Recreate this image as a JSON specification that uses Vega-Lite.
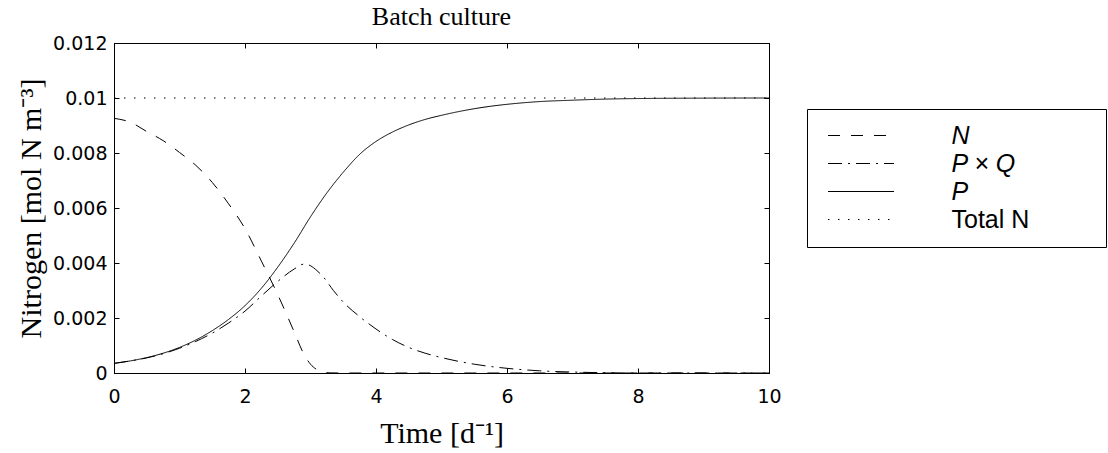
{
  "$schema": "https://vega.github.io/schema/vega-lite/v6.json",
  "autosize": "none",
  "width": 655,
  "height": 330,
  "padding": {"left": 114, "top": 43, "right": 339, "bottom": 80},
  "background": "white",
  "title": {"text": "Batch culture", "font": "Liberation Serif", "fontSize": 26, "fontWeight": "normal", "color": "black", "offset": 4},
  "data": {"values": [
    {"s": "N", "t": 0, "v": 0.00926}, {"s": "N", "t": 0.25, "v": 0.00912}, {"s": "N", "t": 0.5, "v": 0.00878},
    {"s": "N", "t": 0.75, "v": 0.00845}, {"s": "N", "t": 1.0, "v": 0.00802}, {"s": "N", "t": 1.25, "v": 0.00755},
    {"s": "N", "t": 1.5, "v": 0.00693}, {"s": "N", "t": 1.75, "v": 0.00615}, {"s": "N", "t": 2.0, "v": 0.00525},
    {"s": "N", "t": 2.25, "v": 0.00407}, {"s": "N", "t": 2.5, "v": 0.00285}, {"s": "N", "t": 2.75, "v": 0.0015},
    {"s": "N", "t": 2.9, "v": 0.00068}, {"s": "N", "t": 3.0, "v": 0.00032}, {"s": "N", "t": 3.1, "v": 0.00012},
    {"s": "N", "t": 3.2, "v": 0.00003}, {"s": "N", "t": 3.3, "v": 0.000005}, {"s": "N", "t": 3.5, "v": 0},
    {"s": "N", "t": 10, "v": 0},
    {"s": "P × Q", "t": 0, "v": 0.00035}, {"s": "P × Q", "t": 0.25, "v": 0.00044}, {"s": "P × Q", "t": 0.5, "v": 0.00055},
    {"s": "P × Q", "t": 0.75, "v": 0.0007}, {"s": "P × Q", "t": 1.0, "v": 0.0009}, {"s": "P × Q", "t": 1.25, "v": 0.00115},
    {"s": "P × Q", "t": 1.5, "v": 0.00145}, {"s": "P × Q", "t": 1.75, "v": 0.00182}, {"s": "P × Q", "t": 2.0, "v": 0.00225},
    {"s": "P × Q", "t": 2.25, "v": 0.0028}, {"s": "P × Q", "t": 2.5, "v": 0.00333}, {"s": "P × Q", "t": 2.75, "v": 0.00378},
    {"s": "P × Q", "t": 2.9, "v": 0.00396}, {"s": "P × Q", "t": 3.0, "v": 0.0039}, {"s": "P × Q", "t": 3.1, "v": 0.00372},
    {"s": "P × Q", "t": 3.2, "v": 0.00348}, {"s": "P × Q", "t": 3.35, "v": 0.003}, {"s": "P × Q", "t": 3.5, "v": 0.00258},
    {"s": "P × Q", "t": 3.75, "v": 0.00205}, {"s": "P × Q", "t": 4.0, "v": 0.0016}, {"s": "P × Q", "t": 4.25, "v": 0.00122},
    {"s": "P × Q", "t": 4.5, "v": 0.00093}, {"s": "P × Q", "t": 4.75, "v": 0.00072}, {"s": "P × Q", "t": 5.0, "v": 0.00056},
    {"s": "P × Q", "t": 5.5, "v": 0.00032}, {"s": "P × Q", "t": 6.0, "v": 0.00017}, {"s": "P × Q", "t": 6.5, "v": 0.00008},
    {"s": "P × Q", "t": 7.0, "v": 0.000035}, {"s": "P × Q", "t": 7.5, "v": 0.00001}, {"s": "P × Q", "t": 8.0, "v": 0},
    {"s": "P × Q", "t": 10, "v": 0},
    {"s": "P", "t": 0, "v": 0.00035}, {"s": "P", "t": 0.25, "v": 0.00044}, {"s": "P", "t": 0.5, "v": 0.00056},
    {"s": "P", "t": 0.75, "v": 0.00072}, {"s": "P", "t": 1.0, "v": 0.00093}, {"s": "P", "t": 1.25, "v": 0.0012},
    {"s": "P", "t": 1.5, "v": 0.00154}, {"s": "P", "t": 1.75, "v": 0.00195}, {"s": "P", "t": 2.0, "v": 0.00245},
    {"s": "P", "t": 2.25, "v": 0.00308}, {"s": "P", "t": 2.5, "v": 0.00385}, {"s": "P", "t": 2.75, "v": 0.00472},
    {"s": "P", "t": 3.0, "v": 0.00568}, {"s": "P", "t": 3.25, "v": 0.00655}, {"s": "P", "t": 3.5, "v": 0.0073},
    {"s": "P", "t": 3.75, "v": 0.00795}, {"s": "P", "t": 4.0, "v": 0.00842}, {"s": "P", "t": 4.25, "v": 0.00876},
    {"s": "P", "t": 4.5, "v": 0.00902}, {"s": "P", "t": 4.75, "v": 0.00922}, {"s": "P", "t": 5.0, "v": 0.00937},
    {"s": "P", "t": 5.25, "v": 0.0095}, {"s": "P", "t": 5.5, "v": 0.00961}, {"s": "P", "t": 5.75, "v": 0.0097},
    {"s": "P", "t": 6.0, "v": 0.00977}, {"s": "P", "t": 6.5, "v": 0.00987}, {"s": "P", "t": 7.0, "v": 0.00992},
    {"s": "P", "t": 7.5, "v": 0.00996}, {"s": "P", "t": 8.0, "v": 0.00998}, {"s": "P", "t": 9.0, "v": 0.009995},
    {"s": "P", "t": 10, "v": 0.01},
    {"s": "Total N", "t": 0, "v": 0.01}, {"s": "Total N", "t": 10, "v": 0.01}
  ]},
  "layer": [
    {
      "mark": {"type": "line", "interpolate": "monotone", "color": "black", "strokeWidth": 1, "clip": true},
      "encoding": {
        "x": {"field": "t", "type": "quantitative", "scale": {"domain": [0, 10], "nice": false},
          "axis": {"orient": "bottom", "values": [0, 2, 4, 6, 8, 10], "grid": false, "title": "Time [d⁻¹]",
            "titleFont": "Liberation Serif", "titleFontSize": 30, "titleFontWeight": "normal", "titleColor": "black", "titlePadding": 12,
            "labelFont": "DejaVu Sans", "labelFontSize": 19, "labelColor": "black", "labelPadding": 19,
            "tickSize": -5, "tickColor": "black", "domainColor": "black", "labelFlush": false, "labelOverlap": false}},
        "y": {"field": "v", "type": "quantitative", "scale": {"domain": [0, 0.012], "nice": false},
          "axis": {"orient": "left", "values": [0, 0.002, 0.004, 0.006, 0.008, 0.01, 0.012], "grid": false,
            "labelExpr": "format(datum.value, '~g')", "title": "Nitrogen [mol N m⁻³]",
            "titleFont": "Liberation Serif", "titleFontSize": 30, "titleFontWeight": "normal", "titleColor": "black", "titlePadding": 6,
            "labelFont": "DejaVu Sans", "labelFontSize": 19, "labelColor": "black", "labelPadding": 12,
            "tickSize": -5, "tickColor": "black", "domainColor": "black", "labelFlush": false, "labelOverlap": false}},
        "strokeDash": {"field": "s", "type": "nominal", "sort": ["N", "P × Q", "P", "Total N"],
          "scale": {"domain": ["N", "P × Q", "P", "Total N"], "range": [[12, 11], [14, 6, 2, 6], [1, 0], [1.5, 8.5]]},
          "legend": {"title": null, "orient": "none", "legendX": 693, "legendY": 66, "padding": 14,
            "strokeColor": "black", "fillColor": "white",
            "symbolType": "M-6,0H6", "symbolSize": 121, "symbolStrokeWidth": 1, "symbolStrokeColor": "black", "symbolFillColor": "transparent",
            "symbolOffset": 27.5, "labelOffset": 78, "rowPadding": 2,
            "labelFont": "Liberation Sans", "labelFontSize": 25, "labelColor": "black", "labelLimit": 400,
            "encode": {"labels": {"update": {
              "text": {"signal": "datum.value === 'Total N' ? 'Total N\u00a0\u00a0\u00a0\u00a0\u00a0\u00a0\u00a0\u00a0\u00a0\u200b' : datum.label"},
              "fontStyle": {"signal": "datum.value === 'Total N' ? 'normal' : 'italic'"}}}}}}
      }
    },
    {
      "mark": {"type": "line", "opacity": 0},
      "encoding": {
        "x": {"field": "t", "type": "quantitative",
          "axis": {"orient": "top", "values": [0, 2, 4, 6, 8, 10], "grid": false, "labels": false, "title": null,
            "tickSize": -5, "tickColor": "black", "domainColor": "black"}},
        "y": {"field": "v", "type": "quantitative",
          "axis": {"orient": "right", "values": [0, 0.002, 0.004, 0.006, 0.008, 0.01, 0.012], "grid": false, "labels": false, "title": null,
            "tickSize": -5, "tickColor": "black", "domainColor": "black"}},
        "detail": {"field": "s", "type": "nominal"}
      }
    }
  ],
  "resolve": {"axis": {"x": "independent", "y": "independent"}},
  "config": {"view": {"stroke": "black", "strokeWidth": 1}, "font": "Liberation Sans"}
}
